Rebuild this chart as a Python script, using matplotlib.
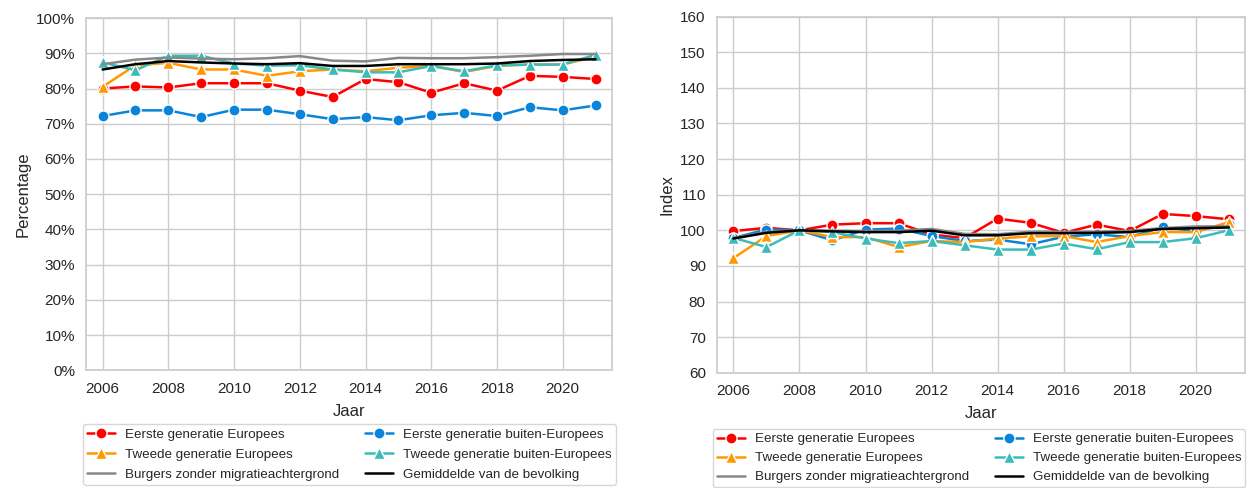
import matplotlib.pyplot as plt
import matplotlib.ticker as mtick
import seaborn as sns

# Jaren en reeksen
jaren = list(range(2006, 2022))

# Linker grafiek: percentage
eerste_eu_pct = [80.0, 80.6, 80.3, 81.5, 81.5, 81.5, 79.4, 77.6, 82.7, 81.8, 78.8, 81.5, 79.4, 83.6, 83.3, 82.7]
eerste_buiten_pct = [72.2, 73.8, 73.8, 71.9, 74.0, 74.0, 72.7, 71.3, 71.9, 71.0, 72.4, 73.1, 72.2, 74.7, 73.8, 75.2]
tweede_eu_pct = [80.5, 86.6, 87.3, 85.4, 85.4, 83.6, 84.9, 85.4, 84.9, 85.9, 86.4, 84.7, 86.4, 86.8, 86.8, 89.1]
tweede_buiten_pct = [87.4, 85.2, 89.3, 89.3, 87.1, 86.5, 86.6, 85.4, 84.6, 84.6, 86.4, 84.9, 86.6, 86.8, 86.8, 89.6]
burgers_pct = [86.9, 88.2, 88.8, 88.5, 88.3, 88.6, 89.2, 87.9, 87.7, 88.7, 88.6, 88.6, 88.9, 89.3, 89.8, 89.8]
gemiddeld_pct = [85.4, 86.9, 87.8, 87.4, 87.1, 86.9, 87.2, 86.4, 86.4, 86.9, 86.9, 86.9, 87.1, 87.8, 88.1, 88.3]

# Rechter grafiek: index (2008 = 100)
eerste_eu_idx = [99.8, 100.7, 100.0, 101.6, 102.0, 102.0, 98.8, 97.8, 103.3, 102.1, 99.3, 101.6, 99.8, 104.6, 104.0, 103.1]
eerste_buiten_idx = [97.9, 100.2, 100.0, 97.2, 100.2, 100.5, 98.4, 97.0, 97.4, 96.1, 98.2, 98.9, 98.1, 100.9, 99.8, 101.9]
tweede_eu_idx = [92.2, 98.4, 100.0, 98.1, 98.1, 95.3, 97.0, 96.7, 97.7, 98.3, 98.4, 96.7, 98.4, 99.5, 99.5, 102.3]
tweede_buiten_idx = [97.9, 95.3, 100.0, 99.5, 97.7, 96.4, 97.0, 95.8, 94.6, 94.6, 96.3, 94.7, 96.7, 96.7, 97.8, 100.0]
burgers_idx = [97.9, 99.5, 100.0, 99.9, 99.8, 99.9, 100.4, 99.0, 98.9, 99.6, 99.6, 99.6, 99.9, 100.6, 101.1, 101.1]
gemiddeld_idx = [97.7, 99.3, 100.0, 99.7, 99.5, 99.5, 99.9, 98.6, 98.6, 99.2, 99.2, 99.3, 99.5, 100.4, 100.6, 100.8]

labels = ["Eerste generatie Europees", "Eerste generatie buiten-Europees",
          "Tweede generatie Europees", "Tweede generatie buiten-Europees",
          "Burgers zonder migratieachtergrond", "Gemiddelde van de bevolking"]
kleuren = ["#ff0000", "#0a84d8", "#ff9900", "#3cbcb8", "#888888", "#000000"]
markers = ["o", "o", "^", "^", None, None]

sns.set_theme(style="whitegrid")
plt.rcParams['font.family'] = ['Liberation Sans', 'DejaVu Sans']

fig = plt.figure(figsize=(12.49, 4.88), dpi=100)
ax1 = fig.add_axes([0.069, 0.241, 0.421, 0.722])
ax2 = fig.add_axes([0.574, 0.236, 0.423, 0.730])


def teken(ax, reeksen):
    lijnen = []
    for reeks, label, kleur, marker in zip(reeksen, labels, kleuren, markers):
        lijn, = ax.plot(jaren, reeks, color=kleur, marker=marker, markersize=8,
                        markeredgecolor="white", markeredgewidth=1, linewidth=1.8,
                        label=label)
        lijnen.append(lijn)
    ax.set_xlabel("Jaar", fontsize=12, labelpad=6)
    ax.set_xlim(2005.5, 2021.5)
    ax.set_xticks(range(2006, 2022, 2))
    ax.tick_params(labelsize=11, pad=2)
    for s in ax.spines.values():
        s.set_color("#cccccc")
    # volgorde in legenda: kolomsgewijs
    volgorde = [0, 2, 4, 1, 3, 5]
    return [lijnen[i] for i in volgorde], [labels[i] for i in volgorde]


legenda_opties = dict(ncol=2, loc="upper left", frameon=True,
                      edgecolor="#cccccc", borderpad=0.3,
                      handlelength=2.1, handletextpad=0.75, columnspacing=1.95,
                      borderaxespad=0)

h, l = teken(ax1, [eerste_eu_pct, eerste_buiten_pct, tweede_eu_pct,
                   tweede_buiten_pct, burgers_pct, gemiddeld_pct])
ax1.set_ylim(0, 100)
ax1.set_yticks(range(0, 101, 10))
ax1.yaxis.set_major_formatter(mtick.PercentFormatter(decimals=0))
ax1.set_ylabel("Percentage", fontsize=12)
ax1.legend(h, l, bbox_to_anchor=(-0.006, -0.153), fontsize=9.6, labelspacing=0.58,
           **legenda_opties)

h, l = teken(ax2, [eerste_eu_idx, eerste_buiten_idx, tweede_eu_idx,
                   tweede_buiten_idx, burgers_idx, gemiddeld_idx])
ax2.set_ylim(60, 160)
ax2.set_yticks(range(60, 161, 10))
ax2.set_ylabel("Index", fontsize=12)
ax2.legend(h, l, bbox_to_anchor=(-0.008, -0.158), fontsize=9.6, labelspacing=0.5,
           **legenda_opties)

fig.savefig("out.png", dpi=100)
